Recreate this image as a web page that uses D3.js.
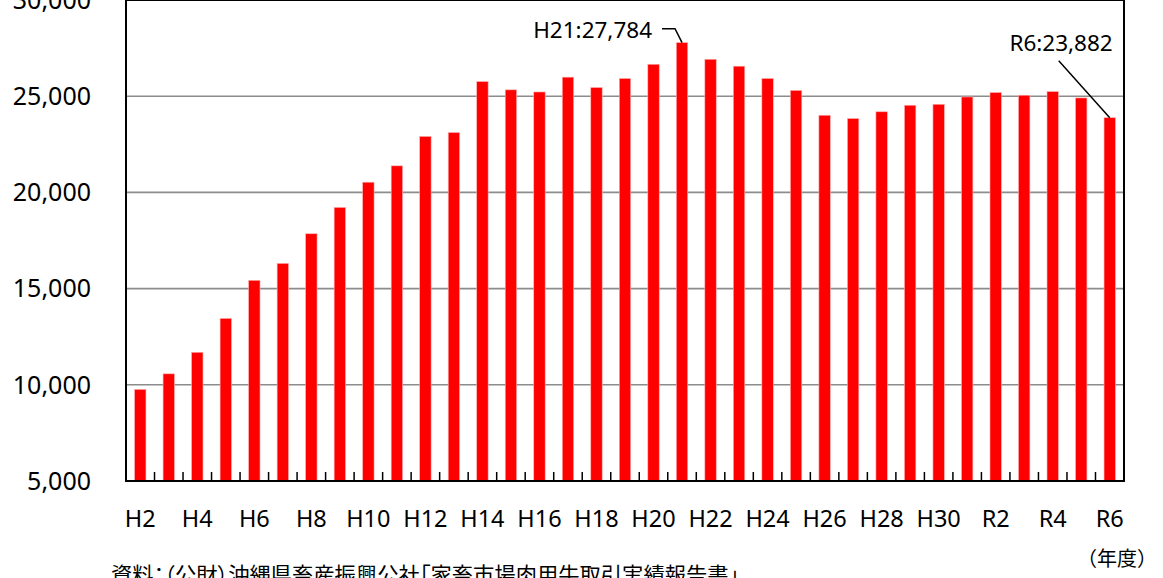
<!DOCTYPE html>
<html>
<head>
<meta charset="utf-8">
<script src="https://cdn.jsdelivr.net/npm/d3@7"></script>
<style>
  body { margin: 0; background: #fff; overflow: hidden; }
  text { font-family: "Noto Sans", "Noto Sans CJK JP", sans-serif; fill: #000; }
  .jp { font-family: "Noto Sans CJK JP", "Noto Sans", sans-serif; }
</style>
</head>
<body>
<div id="chart"></div>
<script>
// 肉用牛 取引頭数 (H2 - R6)

// categories (fiscal years)
var years = ["H2","H3","H4","H5","H6","H7","H8","H9","H10","H11","H12","H13","H14","H15","H16",
  "H17","H18","H19","H20","H21","H22","H23","H24","H25","H26","H27","H28","H29","H30",
  "R1","R2","R3","R4","R5","R6"];

// head count per year
var heads = [9760, 10570, 11690, 13450, 15430, 16310, 17850, 19220, 20530, 21380, 22910, 23110, 25760, 25330, 25220,
  25990, 25450, 25920, 26660, 27784, 26920, 26560, 25920, 25300, 24010, 23840, 24190, 24530, 24580,
  24960, 25190, 25050, 25240, 24910, 23882];

// y ticks
var yTicks = [5000, 10000, 15000, 20000, 25000, 30000];

// callouts
var callouts = [
  {year: "H21", label: "H21:27,784"},
  {year: "R6", label: "R6:23,882"}
];

var source = "資料：（公財）沖縄県畜産振興公社「家畜市場肉用牛取引実績報告書」";
var unitLabel = "（年度）";

var W = 1163, H = 578;
var margin = {top: 0, left: 126, right: 39, bottom: 97};
var width = W - margin.left - margin.right,
    height = H - margin.top - margin.bottom;

var svg = d3.select("#chart").append("svg")
    .attr("width", W)
    .attr("height", H);

var g = svg.append("g")
    .attr("transform", "translate(" + margin.left + "," + margin.top + ")");

var x = d3.scaleBand()
    .domain(years)
    .range([0, width])
    .paddingInner(0.6)
    .paddingOuter(0.3);

var y = d3.scaleLinear()
    .domain([5000, 30000])
    .range([height, 0]);

// gridlines
g.append("g")
  .selectAll("line")
  .data(yTicks.slice(1))
  .enter().append("line")
    .attr("x1", 0)
    .attr("x2", width)
    .attr("y1", function(d) { return y(d); })
    .attr("y2", function(d) { return y(d); })
    .style("stroke", "#8c8c8c")
    .style("stroke-width", 1.6);

// y labels
g.append("g")
  .selectAll("text")
  .data(yTicks)
  .enter().append("text")
    .attr("x", -35)
    .attr("y", function(d) { return y(d); })
    .attr("dy", "0.35em")
    .attr("text-anchor", "end")
    .style("font-size", "25px")
    .text(function(d) { return d3.format(",")(d); });

// bars
g.append("g")
  .selectAll("rect")
  .data(years)
  .enter().append("rect")
    .attr("x", function(d) { return x(d); })
    .attr("y", function(d, i) { return y(heads[i]); })
    .attr("width", x.bandwidth())
    .attr("height", function(d, i) { return height - y(heads[i]); })
    .style("fill", "#ff0000")
    .style("stroke", "#ffb0b0")
    .style("stroke-width", 0.6);

// frame
g.append("rect")
    .attr("x", 0)
    .attr("y", 0)
    .attr("width", width)
    .attr("height", height)
    .style("fill", "none")
    .style("stroke", "#000")
    .style("stroke-width", 2);

// x ticks between categories (pointing in)
var step = x.step();
g.append("g")
  .selectAll("line")
  .data(years.slice(0, -1))
  .enter().append("line")
    .attr("x1", function(d) { return x(d) + x.bandwidth() / 2 + step / 2; })
    .attr("x2", function(d) { return x(d) + x.bandwidth() / 2 + step / 2; })
    .attr("y1", height)
    .attr("y2", height - 9)
    .style("stroke", "#000")
    .style("stroke-width", 1.5);

// x labels, every other year
g.append("g")
  .selectAll("text")
  .data(years.filter(function(d, i) { return i % 2 == 0; }))
  .enter().append("text")
    .attr("x", function(d) { return x(d) + x.bandwidth() / 2; })
    .attr("y", height + 46)
    .attr("text-anchor", "middle")
    .style("font-size", "23.5px")
    .text(function(d) { return d; });

// callouts
var c0 = callouts[0], cx0 = x(c0.year) + x.bandwidth() / 2, cy0 = y(heads[years.indexOf(c0.year)]);
g.append("path")
    .attr("d", "M" + (cx0 - 20) + "," + (cy0 - 14) + "H" + (cx0 - 7) + "L" + cx0 + "," + cy0)
    .style("fill", "none")
    .style("stroke", "#000")
    .style("stroke-width", 1.5);
g.append("text")
    .attr("x", cx0 - 30)
    .attr("y", cy0 - 5)
    .attr("text-anchor", "end")
    .style("font-size", "22.5px")
    .text(c0.label);

var c1 = callouts[1], cx1 = x(c1.year) + x.bandwidth() / 2, cy1 = y(heads[years.indexOf(c1.year)]);
g.append("line")
    .attr("x1", cx1 - 51)
    .attr("y1", cy1 - 57)
    .attr("x2", cx1)
    .attr("y2", cy1)
    .style("stroke", "#000")
    .style("stroke-width", 1.5);
g.append("text")
    .attr("x", cx1 + 3)
    .attr("y", cy1 - 67)
    .attr("text-anchor", "end")
    .style("font-size", "22.5px")
    .text(c1.label);

// unit + source
svg.append("text")
    .attr("class", "jp")
    .attr("x", 1077)
    .attr("y", 566)
    .style("font-size", "20px")
    .text(unitLabel);

svg.append("text")
    .attr("class", "jp")
    .attr("x", 111)
    .attr("y", 583)
    .style("font-size", "21.3px")
    .style("font-feature-settings", "'palt'")
    .text(source);
</script>
</body>
</html>
